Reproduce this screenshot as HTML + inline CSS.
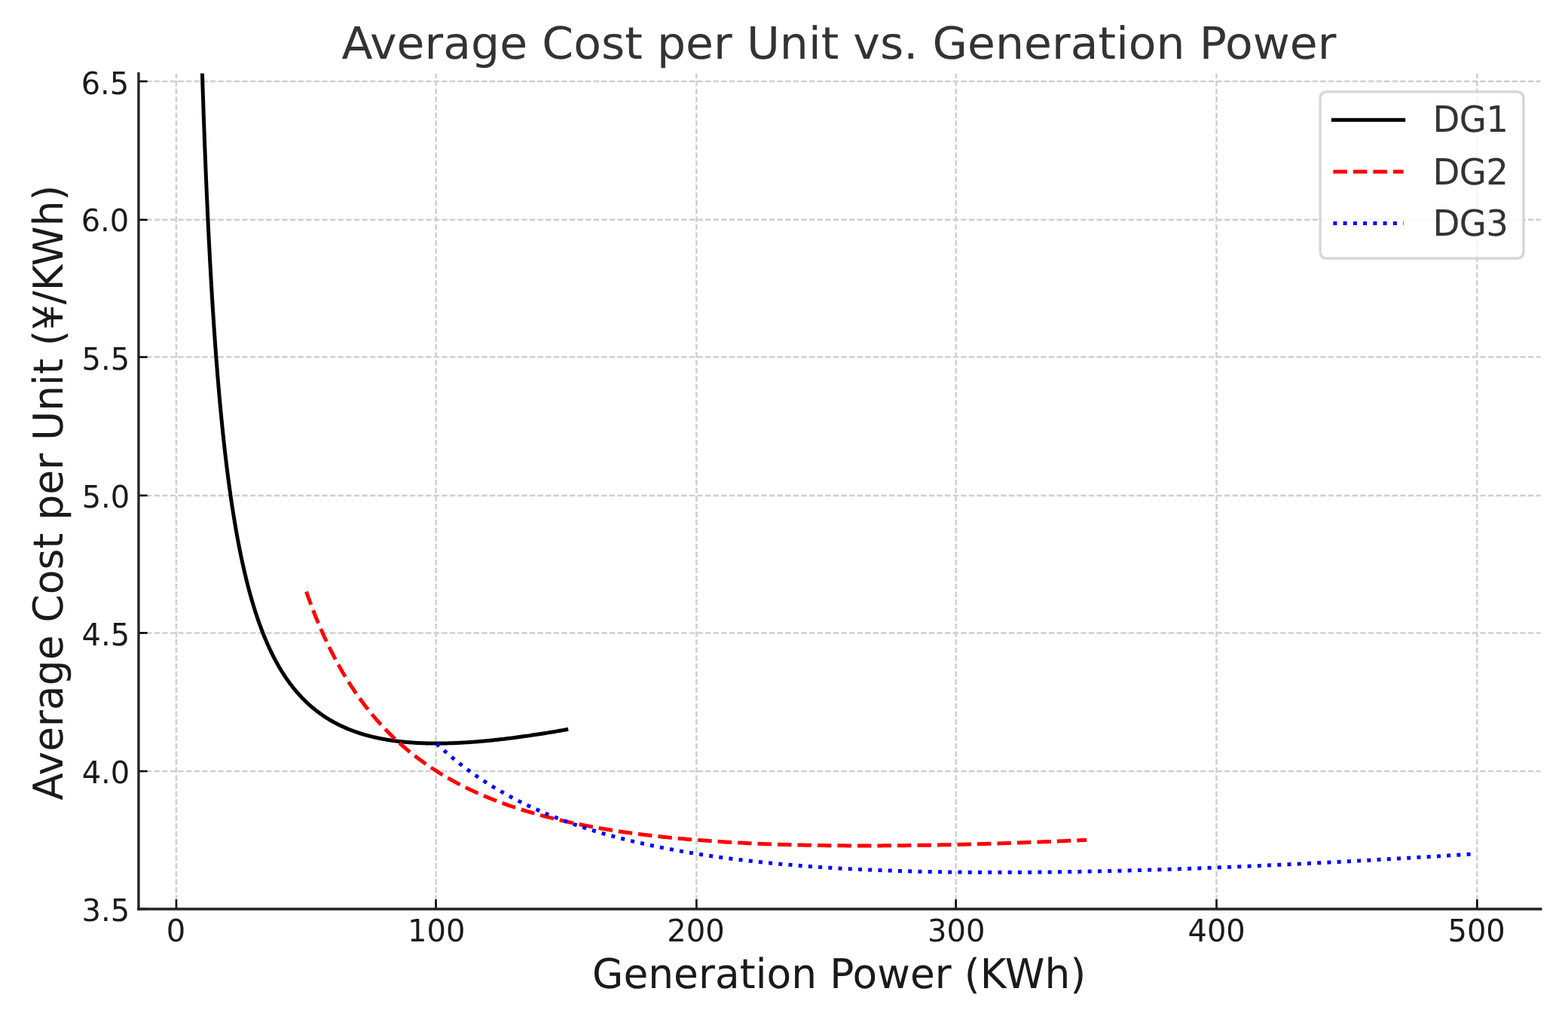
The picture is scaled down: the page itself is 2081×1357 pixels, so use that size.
<!DOCTYPE html>
<html lang="en">
<head>
<meta charset="utf-8">
<title>Average Cost per Unit vs. Generation Power</title>
<style>
html,body{margin:0;padding:0;background:#ffffff;}
body{width:2081px;height:1357px;overflow:hidden;}
svg{display:block;}
text{font-family:"DejaVu Sans","Liberation Sans",sans-serif;text-rendering:geometricPrecision;}
</style>
</head>
<body>
<svg width="2081" height="1357" viewBox="0 0 2081 1357">
<rect x="0" y="0" width="2081" height="1357" fill="#ffffff"/>
<defs><clipPath id="axclip"><rect x="183.95" y="97.6" width="1860.95" height="1109.4"/></clipPath></defs>

<g stroke="#cfcfcf" stroke-width="2.5" stroke-dasharray="7.4 3.2" fill="none" clip-path="url(#axclip)">
<path d="M233.97,1206.3 L233.97,97.6"/>
<path d="M578.53,1206.3 L578.53,97.6"/>
<path d="M924.34,1206.3 L924.34,97.6"/>
<path d="M1268.64,1206.3 L1268.64,97.6"/>
<path d="M1614.53,1206.3 L1614.53,97.6"/>
<path d="M1960.34,1206.3 L1960.34,97.6"/>
<path d="M183.45,1207.00 L2044.9,1207.00"/>
<path d="M183.45,1024.00 L2044.9,1024.00"/>
<path d="M183.45,840.40 L2044.9,840.40"/>
<path d="M183.45,657.90 L2044.9,657.90"/>
<path d="M183.45,474.10 L2044.9,474.10"/>
<path d="M183.45,291.85 L2044.9,291.85"/>
<path d="M183.45,108.00 L2044.9,108.00"/>
</g>
<g fill="none" stroke-width="5.0" stroke-linejoin="round" clip-path="url(#axclip)">
<path d="M268.38,96.77 L270.10,148.56 L271.83,195.59 L273.55,238.49 L275.28,277.76 L277.01,313.85 L278.73,347.12 L280.46,377.88 L282.19,406.41 L283.91,432.93 L285.64,457.65 L287.37,480.74 L289.09,502.35 L290.82,522.62 L292.54,541.66 L294.27,559.59 L296.00,576.48 L297.72,592.44 L299.45,607.52 L301.18,621.81 L302.90,635.35 L304.63,648.20 L306.35,660.42 L308.08,672.04 L309.81,683.11 L311.53,693.66 L313.26,703.73 L314.99,713.35 L316.71,722.55 L318.44,731.34 L320.16,739.77 L321.89,747.84 L323.62,755.58 L325.34,763.00 L327.07,770.13 L328.80,776.99 L330.52,783.57 L332.25,789.91 L333.98,796.01 L335.70,801.89 L337.43,807.55 L339.15,813.00 L340.88,818.27 L342.61,823.34 L344.33,828.25 L346.06,832.98 L347.79,837.56 L349.51,841.98 L351.24,846.25 L352.96,850.39 L354.69,854.39 L356.42,858.26 L358.14,862.01 L359.87,865.65 L361.60,869.17 L363.32,872.58 L365.05,875.89 L366.78,879.09 L368.50,882.20 L370.23,885.22 L371.95,888.15 L373.68,890.99 L375.41,893.75 L377.13,896.43 L378.86,899.04 L380.59,901.57 L382.31,904.02 L384.04,906.41 L385.76,908.73 L387.49,910.99 L389.22,913.19 L390.94,915.32 L392.67,917.40 L394.40,919.42 L396.12,921.38 L397.85,923.29 L399.57,925.15 L401.30,926.96 L403.03,928.73 L404.75,930.44 L406.48,932.12 L408.21,933.74 L409.93,935.33 L411.66,936.87 L413.39,938.37 L415.11,939.84 L416.84,941.26 L418.56,942.65 L420.29,944.00 L422.02,945.32 L423.74,946.60 L425.47,947.85 L427.20,949.07 L428.92,950.26 L430.65,951.42 L432.37,952.54 L434.10,953.64 L435.83,954.71 L437.55,955.76 L439.28,956.77 L441.01,957.76 L442.73,958.73 L444.46,959.67 L446.18,960.58 L447.91,961.47 L449.64,962.34 L451.36,963.19 L453.09,964.01 L454.82,964.81 L456.54,965.60 L458.27,966.36 L460.00,967.10 L461.72,967.82 L463.45,968.52 L465.17,969.21 L466.90,969.87 L468.63,970.52 L470.35,971.15 L472.08,971.76 L473.81,972.36 L475.53,972.94 L477.26,973.50 L478.98,974.05 L480.71,974.59 L482.44,975.10 L484.16,975.61 L485.89,976.10 L487.62,976.57 L489.34,977.03 L491.07,977.48 L492.79,977.91 L494.52,978.33 L496.25,978.74 L497.97,979.14 L499.70,979.52 L501.43,979.89 L503.15,980.25 L504.88,980.60 L506.61,980.94 L508.33,981.26 L510.06,981.58 L511.78,981.88 L513.51,982.17 L515.24,982.46 L516.96,982.73 L518.69,982.99 L520.42,983.24 L522.14,983.49 L523.87,983.72 L525.59,983.95 L527.32,984.16 L529.05,984.37 L530.77,984.57 L532.50,984.76 L534.23,984.94 L535.95,985.11 L537.68,985.27 L539.41,985.43 L541.13,985.58 L542.86,985.72 L544.58,985.85 L546.31,985.98 L548.04,986.09 L549.76,986.20 L551.49,986.31 L553.22,986.40 L554.94,986.49 L556.67,986.58 L558.39,986.65 L560.12,986.72 L561.85,986.78 L563.57,986.84 L565.30,986.89 L567.03,986.93 L568.75,986.97 L570.48,987.00 L572.20,987.03 L573.93,987.05 L575.66,987.06 L577.38,987.07 L579.11,987.07 L580.84,987.07 L582.56,987.06 L584.29,987.05 L586.02,987.03 L587.74,987.00 L589.47,986.98 L591.19,986.94 L592.92,986.90 L594.65,986.86 L596.37,986.81 L598.10,986.76 L599.83,986.70 L601.55,986.64 L603.28,986.57 L605.00,986.50 L606.73,986.42 L608.46,986.34 L610.18,986.26 L611.91,986.17 L613.64,986.07 L615.36,985.98 L617.09,985.87 L618.81,985.77 L620.54,985.66 L622.27,985.55 L623.99,985.43 L625.72,985.31 L627.45,985.18 L629.17,985.05 L630.90,984.92 L632.63,984.79 L634.35,984.65 L636.08,984.50 L637.80,984.36 L639.53,984.21 L641.26,984.05 L642.98,983.90 L644.71,983.74 L646.44,983.57 L648.16,983.41 L649.89,983.24 L651.61,983.07 L653.34,982.89 L655.07,982.71 L656.79,982.53 L658.52,982.34 L660.25,982.16 L661.97,981.97 L663.70,981.77 L665.42,981.58 L667.15,981.38 L668.88,981.18 L670.60,980.97 L672.33,980.76 L674.06,980.55 L675.78,980.34 L677.51,980.12 L679.24,979.91 L680.96,979.69 L682.69,979.46 L684.41,979.24 L686.14,979.01 L687.87,978.78 L689.59,978.55 L691.32,978.31 L693.05,978.07 L694.77,977.83 L696.50,977.59 L698.22,977.35 L699.95,977.10 L701.68,976.85 L703.40,976.60 L705.13,976.34 L706.86,976.09 L708.58,975.83 L710.31,975.57 L712.04,975.31 L713.76,975.04 L715.49,974.78 L717.21,974.51 L718.94,974.24 L720.67,973.97 L722.39,973.69 L724.12,973.42 L725.85,973.14 L727.57,972.86 L729.30,972.58 L731.02,972.29 L732.75,972.01 L734.48,971.72 L736.20,971.43 L737.93,971.14 L739.66,970.85 L741.38,970.55 L743.11,970.26 L744.83,969.96 L746.56,969.66 L748.29,969.36 L750.01,969.06 L751.74,968.75" stroke="#000000" stroke-linecap="square"/>
<path d="M406.48,785.56 L409.93,795.25 L413.39,804.56 L416.84,813.50 L420.29,822.09 L423.74,830.36 L427.20,838.32 L430.65,845.99 L434.10,853.38 L437.55,860.51 L441.01,867.39 L444.46,874.03 L447.91,880.44 L451.36,886.64 L454.82,892.64 L458.27,898.44 L461.72,904.05 L465.17,909.48 L468.63,914.74 L472.08,919.84 L475.53,924.79 L478.98,929.58 L482.44,934.23 L485.89,938.74 L489.34,943.13 L492.79,947.38 L496.25,951.51 L499.70,955.53 L503.15,959.43 L506.61,963.23 L510.06,966.92 L513.51,970.51 L516.96,974.01 L520.42,977.41 L523.87,980.72 L527.32,983.95 L530.77,987.09 L534.23,990.15 L537.68,993.13 L541.13,996.04 L544.58,998.88 L548.04,1001.64 L551.49,1004.34 L554.94,1006.97 L558.39,1009.54 L561.85,1012.04 L565.30,1014.49 L568.75,1016.88 L572.20,1019.21 L575.66,1021.49 L579.11,1023.71 L582.56,1025.88 L586.02,1028.01 L589.47,1030.08 L592.92,1032.11 L596.37,1034.09 L599.83,1036.03 L603.28,1037.92 L606.73,1039.78 L610.18,1041.59 L613.64,1043.36 L617.09,1045.10 L620.54,1046.79 L623.99,1048.45 L627.45,1050.08 L630.90,1051.67 L634.35,1053.22 L637.80,1054.75 L641.26,1056.24 L644.71,1057.70 L648.16,1059.13 L651.61,1060.53 L655.07,1061.90 L658.52,1063.24 L661.97,1064.56 L665.42,1065.84 L668.88,1067.11 L672.33,1068.34 L675.78,1069.55 L679.24,1070.74 L682.69,1071.90 L686.14,1073.04 L689.59,1074.16 L693.05,1075.25 L696.50,1076.33 L699.95,1077.38 L703.40,1078.41 L706.86,1079.42 L710.31,1080.41 L713.76,1081.38 L717.21,1082.33 L720.67,1083.26 L724.12,1084.18 L727.57,1085.07 L731.02,1085.95 L734.48,1086.82 L737.93,1087.66 L741.38,1088.49 L744.83,1089.30 L748.29,1090.10 L751.74,1090.88 L755.19,1091.65 L758.65,1092.40 L762.10,1093.13 L765.55,1093.86 L769.00,1094.56 L772.46,1095.26 L775.91,1095.94 L779.36,1096.61 L782.81,1097.26 L786.27,1097.90 L789.72,1098.53 L793.17,1099.15 L796.62,1099.75 L800.08,1100.35 L803.53,1100.93 L806.98,1101.50 L810.43,1102.06 L813.89,1102.60 L817.34,1103.14 L820.79,1103.67 L824.24,1104.18 L827.70,1104.69 L831.15,1105.18 L834.60,1105.67 L838.05,1106.15 L841.51,1106.61 L844.96,1107.07 L848.41,1107.52 L851.87,1107.95 L855.32,1108.38 L858.77,1108.81 L862.22,1109.22 L865.68,1109.62 L869.13,1110.02 L872.58,1110.40 L876.03,1110.78 L879.49,1111.15 L882.94,1111.52 L886.39,1111.87 L889.84,1112.22 L893.30,1112.56 L896.75,1112.89 L900.20,1113.22 L903.65,1113.54 L907.11,1113.85 L910.56,1114.15 L914.01,1114.45 L917.46,1114.74 L920.92,1115.03 L924.37,1115.30 L927.82,1115.58 L931.28,1115.84 L934.73,1116.10 L938.18,1116.35 L941.63,1116.60 L945.09,1116.84 L948.54,1117.08 L951.99,1117.31 L955.44,1117.53 L958.90,1117.75 L962.35,1117.96 L965.80,1118.17 L969.25,1118.37 L972.71,1118.56 L976.16,1118.76 L979.61,1118.94 L983.06,1119.12 L986.52,1119.30 L989.97,1119.47 L993.42,1119.63 L996.87,1119.80 L1000.33,1119.95 L1003.78,1120.10 L1007.23,1120.25 L1010.68,1120.39 L1014.14,1120.53 L1017.59,1120.67 L1021.04,1120.79 L1024.50,1120.92 L1027.95,1121.04 L1031.40,1121.16 L1034.85,1121.27 L1038.31,1121.38 L1041.76,1121.48 L1045.21,1121.58 L1048.66,1121.68 L1052.12,1121.77 L1055.57,1121.86 L1059.02,1121.94 L1062.47,1122.02 L1065.93,1122.10 L1069.38,1122.17 L1072.83,1122.24 L1076.28,1122.31 L1079.74,1122.37 L1083.19,1122.43 L1086.64,1122.49 L1090.09,1122.54 L1093.55,1122.59 L1097.00,1122.63 L1100.45,1122.67 L1103.91,1122.71 L1107.36,1122.75 L1110.81,1122.78 L1114.26,1122.81 L1117.72,1122.84 L1121.17,1122.86 L1124.62,1122.88 L1128.07,1122.90 L1131.53,1122.91 L1134.98,1122.93 L1138.43,1122.93 L1141.88,1122.94 L1145.34,1122.94 L1148.79,1122.94 L1152.24,1122.94 L1155.69,1122.94 L1159.15,1122.93 L1162.60,1122.92 L1166.05,1122.90 L1169.50,1122.89 L1172.96,1122.87 L1176.41,1122.85 L1179.86,1122.83 L1183.31,1122.80 L1186.77,1122.77 L1190.22,1122.74 L1193.67,1122.71 L1197.13,1122.67 L1200.58,1122.63 L1204.03,1122.59 L1207.48,1122.55 L1210.94,1122.50 L1214.39,1122.46 L1217.84,1122.41 L1221.29,1122.36 L1224.75,1122.30 L1228.20,1122.25 L1231.65,1122.19 L1235.10,1122.13 L1238.56,1122.06 L1242.01,1122.00 L1245.46,1121.93 L1248.91,1121.86 L1252.37,1121.79 L1255.82,1121.72 L1259.27,1121.65 L1262.72,1121.57 L1266.18,1121.49 L1269.63,1121.41 L1273.08,1121.33 L1276.54,1121.24 L1279.99,1121.16 L1283.44,1121.07 L1286.89,1120.98 L1290.35,1120.89 L1293.80,1120.80 L1297.25,1120.70 L1300.70,1120.60 L1304.16,1120.51 L1307.61,1120.40 L1311.06,1120.30 L1314.51,1120.20 L1317.97,1120.09 L1321.42,1119.99 L1324.87,1119.88 L1328.32,1119.77 L1331.78,1119.66 L1335.23,1119.54 L1338.68,1119.43 L1342.13,1119.31 L1345.59,1119.19 L1349.04,1119.07 L1352.49,1118.95 L1355.94,1118.83 L1359.40,1118.70 L1362.85,1118.58 L1366.30,1118.45 L1369.76,1118.32 L1373.21,1118.19 L1376.66,1118.06 L1380.11,1117.93 L1383.57,1117.79 L1387.02,1117.66 L1390.47,1117.52 L1393.92,1117.38 L1397.38,1117.24 L1400.83,1117.10 L1404.28,1116.96 L1407.73,1116.81 L1411.19,1116.67 L1414.64,1116.52 L1418.09,1116.37 L1421.54,1116.23 L1425.00,1116.07 L1428.45,1115.92 L1431.90,1115.77 L1435.35,1115.62 L1438.81,1115.46 L1442.26,1115.30" stroke="#ff0000" stroke-dasharray="18.5 8"/>
<path d="M579.11,987.07 L582.56,990.33 L586.01,993.52 L589.46,996.64 L592.91,999.69 L596.36,1002.68 L599.81,1005.60 L603.26,1008.46 L606.71,1011.27 L610.16,1014.01 L613.61,1016.70 L617.06,1019.33 L620.52,1021.91 L623.97,1024.44 L627.42,1026.92 L630.87,1029.34 L634.32,1031.72 L637.77,1034.05 L641.22,1036.34 L644.67,1038.58 L648.12,1040.78 L651.57,1042.94 L655.02,1045.05 L658.47,1047.13 L661.92,1049.16 L665.37,1051.16 L668.82,1053.12 L672.27,1055.04 L675.72,1056.93 L679.17,1058.78 L682.62,1060.60 L686.07,1062.38 L689.52,1064.13 L692.97,1065.85 L696.43,1067.54 L699.88,1069.20 L703.33,1070.83 L706.78,1072.43 L710.23,1074.00 L713.68,1075.54 L717.13,1077.06 L720.58,1078.55 L724.03,1080.01 L727.48,1081.45 L730.93,1082.86 L734.38,1084.25 L737.83,1085.61 L741.28,1086.95 L744.73,1088.27 L748.18,1089.57 L751.63,1090.84 L755.08,1092.09 L758.53,1093.32 L761.98,1094.53 L765.43,1095.72 L768.88,1096.89 L772.33,1098.04 L775.79,1099.17 L779.24,1100.28 L782.69,1101.37 L786.14,1102.44 L789.59,1103.50 L793.04,1104.54 L796.49,1105.56 L799.94,1106.56 L803.39,1107.55 L806.84,1108.52 L810.29,1109.48 L813.74,1110.42 L817.19,1111.34 L820.64,1112.25 L824.09,1113.14 L827.54,1114.02 L830.99,1114.89 L834.44,1115.74 L837.89,1116.57 L841.34,1117.40 L844.79,1118.21 L848.24,1119.00 L851.69,1119.79 L855.15,1120.56 L858.60,1121.32 L862.05,1122.06 L865.50,1122.80 L868.95,1123.52 L872.40,1124.23 L875.85,1124.93 L879.30,1125.61 L882.75,1126.29 L886.20,1126.96 L889.65,1127.61 L893.10,1128.25 L896.55,1128.89 L900.00,1129.51 L903.45,1130.12 L906.90,1130.72 L910.35,1131.32 L913.80,1131.90 L917.25,1132.47 L920.70,1133.04 L924.15,1133.59 L927.60,1134.13 L931.06,1134.67 L934.51,1135.20 L937.96,1135.72 L941.41,1136.23 L944.86,1136.73 L948.31,1137.22 L951.76,1137.71 L955.21,1138.18 L958.66,1138.65 L962.11,1139.11 L965.56,1139.57 L969.01,1140.01 L972.46,1140.45 L975.91,1140.88 L979.36,1141.30 L982.81,1141.72 L986.26,1142.13 L989.71,1142.53 L993.16,1142.92 L996.61,1143.31 L1000.06,1143.69 L1003.51,1144.06 L1006.96,1144.43 L1010.42,1144.79 L1013.87,1145.15 L1017.32,1145.49 L1020.77,1145.84 L1024.22,1146.17 L1027.67,1146.50 L1031.12,1146.82 L1034.57,1147.14 L1038.02,1147.45 L1041.47,1147.76 L1044.92,1148.06 L1048.37,1148.35 L1051.82,1148.64 L1055.27,1148.93 L1058.72,1149.20 L1062.17,1149.48 L1065.62,1149.74 L1069.07,1150.01 L1072.52,1150.26 L1075.97,1150.52 L1079.42,1150.76 L1082.87,1151.00 L1086.32,1151.24 L1089.78,1151.47 L1093.23,1151.70 L1096.68,1151.92 L1100.13,1152.14 L1103.58,1152.35 L1107.03,1152.56 L1110.48,1152.77 L1113.93,1152.97 L1117.38,1153.16 L1120.83,1153.35 L1124.28,1153.54 L1127.73,1153.72 L1131.18,1153.90 L1134.63,1154.07 L1138.08,1154.24 L1141.53,1154.41 L1144.98,1154.57 L1148.43,1154.73 L1151.88,1154.88 L1155.33,1155.03 L1158.78,1155.18 L1162.23,1155.32 L1165.69,1155.46 L1169.14,1155.59 L1172.59,1155.72 L1176.04,1155.85 L1179.49,1155.97 L1182.94,1156.09 L1186.39,1156.21 L1189.84,1156.32 L1193.29,1156.43 L1196.74,1156.54 L1200.19,1156.64 L1203.64,1156.74 L1207.09,1156.84 L1210.54,1156.93 L1213.99,1157.02 L1217.44,1157.11 L1220.89,1157.19 L1224.34,1157.27 L1227.79,1157.35 L1231.24,1157.42 L1234.69,1157.49 L1238.14,1157.56 L1241.59,1157.63 L1245.05,1157.69 L1248.50,1157.75 L1251.95,1157.80 L1255.40,1157.86 L1258.85,1157.91 L1262.30,1157.96 L1265.75,1158.00 L1269.20,1158.04 L1272.65,1158.08 L1276.10,1158.12 L1279.55,1158.16 L1283.00,1158.19 L1286.45,1158.22 L1289.90,1158.24 L1293.35,1158.27 L1296.80,1158.29 L1300.25,1158.31 L1303.70,1158.32 L1307.15,1158.34 L1310.60,1158.35 L1314.05,1158.36 L1317.50,1158.36 L1320.96,1158.37 L1324.41,1158.37 L1327.86,1158.37 L1331.31,1158.37 L1334.76,1158.36 L1338.21,1158.36 L1341.66,1158.35 L1345.11,1158.33 L1348.56,1158.32 L1352.01,1158.31 L1355.46,1158.29 L1358.91,1158.27 L1362.36,1158.24 L1365.81,1158.22 L1369.26,1158.19 L1372.71,1158.16 L1376.16,1158.13 L1379.61,1158.10 L1383.06,1158.07 L1386.51,1158.03 L1389.96,1157.99 L1393.41,1157.95 L1396.86,1157.91 L1400.32,1157.86 L1403.77,1157.82 L1407.22,1157.77 L1410.67,1157.72 L1414.12,1157.67 L1417.57,1157.61 L1421.02,1157.56 L1424.47,1157.50 L1427.92,1157.44 L1431.37,1157.38 L1434.82,1157.32 L1438.27,1157.25 L1441.72,1157.19 L1445.17,1157.12 L1448.62,1157.05 L1452.07,1156.98 L1455.52,1156.91 L1458.97,1156.83 L1462.42,1156.76 L1465.87,1156.68 L1469.32,1156.60 L1472.77,1156.52 L1476.22,1156.43 L1479.68,1156.35 L1483.13,1156.26 L1486.58,1156.18 L1490.03,1156.09 L1493.48,1156.00 L1496.93,1155.91 L1500.38,1155.81 L1503.83,1155.72 L1507.28,1155.62 L1510.73,1155.52 L1514.18,1155.43 L1517.63,1155.32 L1521.08,1155.22 L1524.53,1155.12 L1527.98,1155.01 L1531.43,1154.91 L1534.88,1154.80 L1538.33,1154.69 L1541.78,1154.58 L1545.23,1154.47 L1548.68,1154.36 L1552.13,1154.24 L1555.59,1154.13 L1559.04,1154.01 L1562.49,1153.89 L1565.94,1153.77 L1569.39,1153.65 L1572.84,1153.53 L1576.29,1153.41 L1579.74,1153.28 L1583.19,1153.16 L1586.64,1153.03 L1590.09,1152.90 L1593.54,1152.77 L1596.99,1152.64 L1600.44,1152.51 L1603.89,1152.37 L1607.34,1152.24 L1610.79,1152.11 L1614.24,1151.97 L1617.69,1151.83 L1621.14,1151.69 L1624.59,1151.55 L1628.04,1151.41 L1631.49,1151.27 L1634.95,1151.13 L1638.40,1150.98 L1641.85,1150.84 L1645.30,1150.69 L1648.75,1150.54 L1652.20,1150.39 L1655.65,1150.24 L1659.10,1150.09 L1662.55,1149.94 L1666.00,1149.79 L1669.45,1149.63 L1672.90,1149.48 L1676.35,1149.32 L1679.80,1149.17 L1683.25,1149.01 L1686.70,1148.85 L1690.15,1148.69 L1693.60,1148.53 L1697.05,1148.37 L1700.50,1148.20 L1703.95,1148.04 L1707.40,1147.88 L1710.86,1147.71 L1714.31,1147.54 L1717.76,1147.38 L1721.21,1147.21 L1724.66,1147.04 L1728.11,1146.87 L1731.56,1146.70 L1735.01,1146.53 L1738.46,1146.35 L1741.91,1146.18 L1745.36,1146.00 L1748.81,1145.83 L1752.26,1145.65 L1755.71,1145.47 L1759.16,1145.30 L1762.61,1145.12 L1766.06,1144.94 L1769.51,1144.76 L1772.96,1144.58 L1776.41,1144.39 L1779.86,1144.21 L1783.31,1144.03 L1786.76,1143.84 L1790.22,1143.66 L1793.67,1143.47 L1797.12,1143.28 L1800.57,1143.09 L1804.02,1142.91 L1807.47,1142.72 L1810.92,1142.53 L1814.37,1142.34 L1817.82,1142.14 L1821.27,1141.95 L1824.72,1141.76 L1828.17,1141.56 L1831.62,1141.37 L1835.07,1141.17 L1838.52,1140.98 L1841.97,1140.78 L1845.42,1140.58 L1848.87,1140.38 L1852.32,1140.18 L1855.77,1139.98 L1859.22,1139.78 L1862.67,1139.58 L1866.12,1139.38 L1869.58,1139.18 L1873.03,1138.97 L1876.48,1138.77 L1879.93,1138.57 L1883.38,1138.36 L1886.83,1138.15 L1890.28,1137.95 L1893.73,1137.74 L1897.18,1137.53 L1900.63,1137.32 L1904.08,1137.11 L1907.53,1136.90 L1910.98,1136.69 L1914.43,1136.48 L1917.88,1136.27 L1921.33,1136.06 L1924.78,1135.84 L1928.23,1135.63 L1931.68,1135.42 L1935.13,1135.20 L1938.58,1134.99 L1942.03,1134.77 L1945.49,1134.55 L1948.94,1134.33 L1952.39,1134.12 L1955.84,1133.90 L1959.29,1133.68" stroke="#0000ff" stroke-dasharray="5 8.25" stroke-dashoffset="-0.5"/>
</g>
<g stroke="#000000" stroke-width="2.55" fill="none">
<path d="M233.97,1207.0 L233.97,1194.13"/>
<path d="M578.53,1207.0 L578.53,1194.13"/>
<path d="M924.34,1207.0 L924.34,1194.13"/>
<path d="M1268.64,1207.0 L1268.64,1194.13"/>
<path d="M1614.53,1207.0 L1614.53,1194.13"/>
<path d="M1960.34,1207.0 L1960.34,1194.13"/>
<path d="M183.95,1207.00 L195.62,1207.00"/>
<path d="M183.95,1024.00 L195.62,1024.00"/>
<path d="M183.95,840.40 L195.62,840.40"/>
<path d="M183.95,657.90 L195.62,657.90"/>
<path d="M183.95,474.10 L195.62,474.10"/>
<path d="M183.95,291.85 L195.62,291.85"/>
<path d="M183.95,108.00 L195.62,108.00"/>
</g>
<g stroke="#222222" stroke-width="3.33" stroke-linecap="square" fill="none">
<path d="M183.95,1207.0 L183.95,97.6"/>
<path d="M183.95,1207.0 L2044.9,1207.0"/>
</g>
<text transform="translate(233.40,1250.00) scale(1,1.03)" font-size="40px" fill="#1a1a1a" text-anchor="middle">0</text>
<text transform="translate(579.20,1250.00) scale(1,1.03)" font-size="40px" fill="#1a1a1a" text-anchor="middle">100</text>
<text transform="translate(923.40,1250.00) scale(1,1.03)" font-size="40px" fill="#1a1a1a" text-anchor="middle">200</text>
<text transform="translate(1269.20,1250.00) scale(1,1.03)" font-size="40px" fill="#1a1a1a" text-anchor="middle">300</text>
<text transform="translate(1614.60,1250.00) scale(1,1.03)" font-size="40px" fill="#1a1a1a" text-anchor="middle">400</text>
<text transform="translate(1959.60,1250.00) scale(1,1.03)" font-size="40px" fill="#1a1a1a" text-anchor="middle">500</text>
<text transform="translate(172.10,1223.30) scale(1,1.03)" font-size="40px" fill="#1a1a1a" text-anchor="end">3.5</text>
<text transform="translate(172.30,1039.85) scale(1,1.03)" font-size="40px" fill="#1a1a1a" text-anchor="end">4.0</text>
<text transform="translate(172.10,857.05) scale(1,1.03)" font-size="40px" fill="#1a1a1a" text-anchor="end">4.5</text>
<text transform="translate(172.30,673.85) scale(1,1.03)" font-size="40px" fill="#1a1a1a" text-anchor="end">5.0</text>
<text transform="translate(172.20,491.05) scale(1,1.03)" font-size="40px" fill="#1a1a1a" text-anchor="end">5.5</text>
<text transform="translate(171.30,307.30) scale(1,1.03)" font-size="40px" fill="#1a1a1a" text-anchor="end">6.0</text>
<text transform="translate(171.30,125.10) scale(1,1.03)" font-size="40px" fill="#1a1a1a" text-anchor="end">6.5</text>
<text transform="translate(1113.67,1312.00) scale(1,1.022)" font-size="53.33px" fill="#1a1a1a" text-anchor="middle" letter-spacing="0.07">Generation Power (KWh)</text>
<text transform="translate(83.00,654.25) rotate(-90) scale(1,1.022)" font-size="53.33px" fill="#1a1a1a" text-anchor="middle" letter-spacing="0.055">Average Cost per Unit (¥/KWh)</text>
<text transform="translate(1113.42,78.10) scale(1,0.984)" font-size="60px" fill="#333333" text-anchor="middle" letter-spacing="0.05">Average Cost per Unit vs. Generation Power</text>
<path d="M1761.43,121.9 L2012.67,121.9 Q2022.0,121.9 2022.0,131.23 L2022.0,333.67 Q2022.0,343.0 2012.67,343.0 L1761.43,343.0 Q1752.1,343.0 1752.1,333.67 L1752.1,131.23 Q1752.1,121.9 1761.43,121.9 Z" fill="#ffffff" fill-opacity="0.8" stroke="#cccccc" stroke-opacity="0.8" stroke-width="3.33" stroke-linejoin="miter"/>
<g fill="none" stroke-width="5.0">
<path d="M1769.37,159.3 L1862.70,159.3" stroke="#000000" stroke-linecap="square"/>
<path d="M1769.37,228.0 L1862.70,228.0" stroke="#ff0000" stroke-dasharray="18.5 8"/>
<path d="M1769.37,296.6 L1862.70,296.6" stroke="#0000ff" stroke-dasharray="5 8.25"/>
</g>
<text transform="translate(1901.43,175.00) scale(1,1.027)" font-size="46.67px" fill="#333333" letter-spacing="-0.6">DG1</text>
<text transform="translate(1901.43,245.00) scale(1,1.027)" font-size="46.67px" fill="#333333" letter-spacing="-0.6">DG2</text>
<text transform="translate(1901.43,313.00) scale(1,1.027)" font-size="46.67px" fill="#333333" letter-spacing="-0.6">DG3</text>
</svg>
</body>
</html>
